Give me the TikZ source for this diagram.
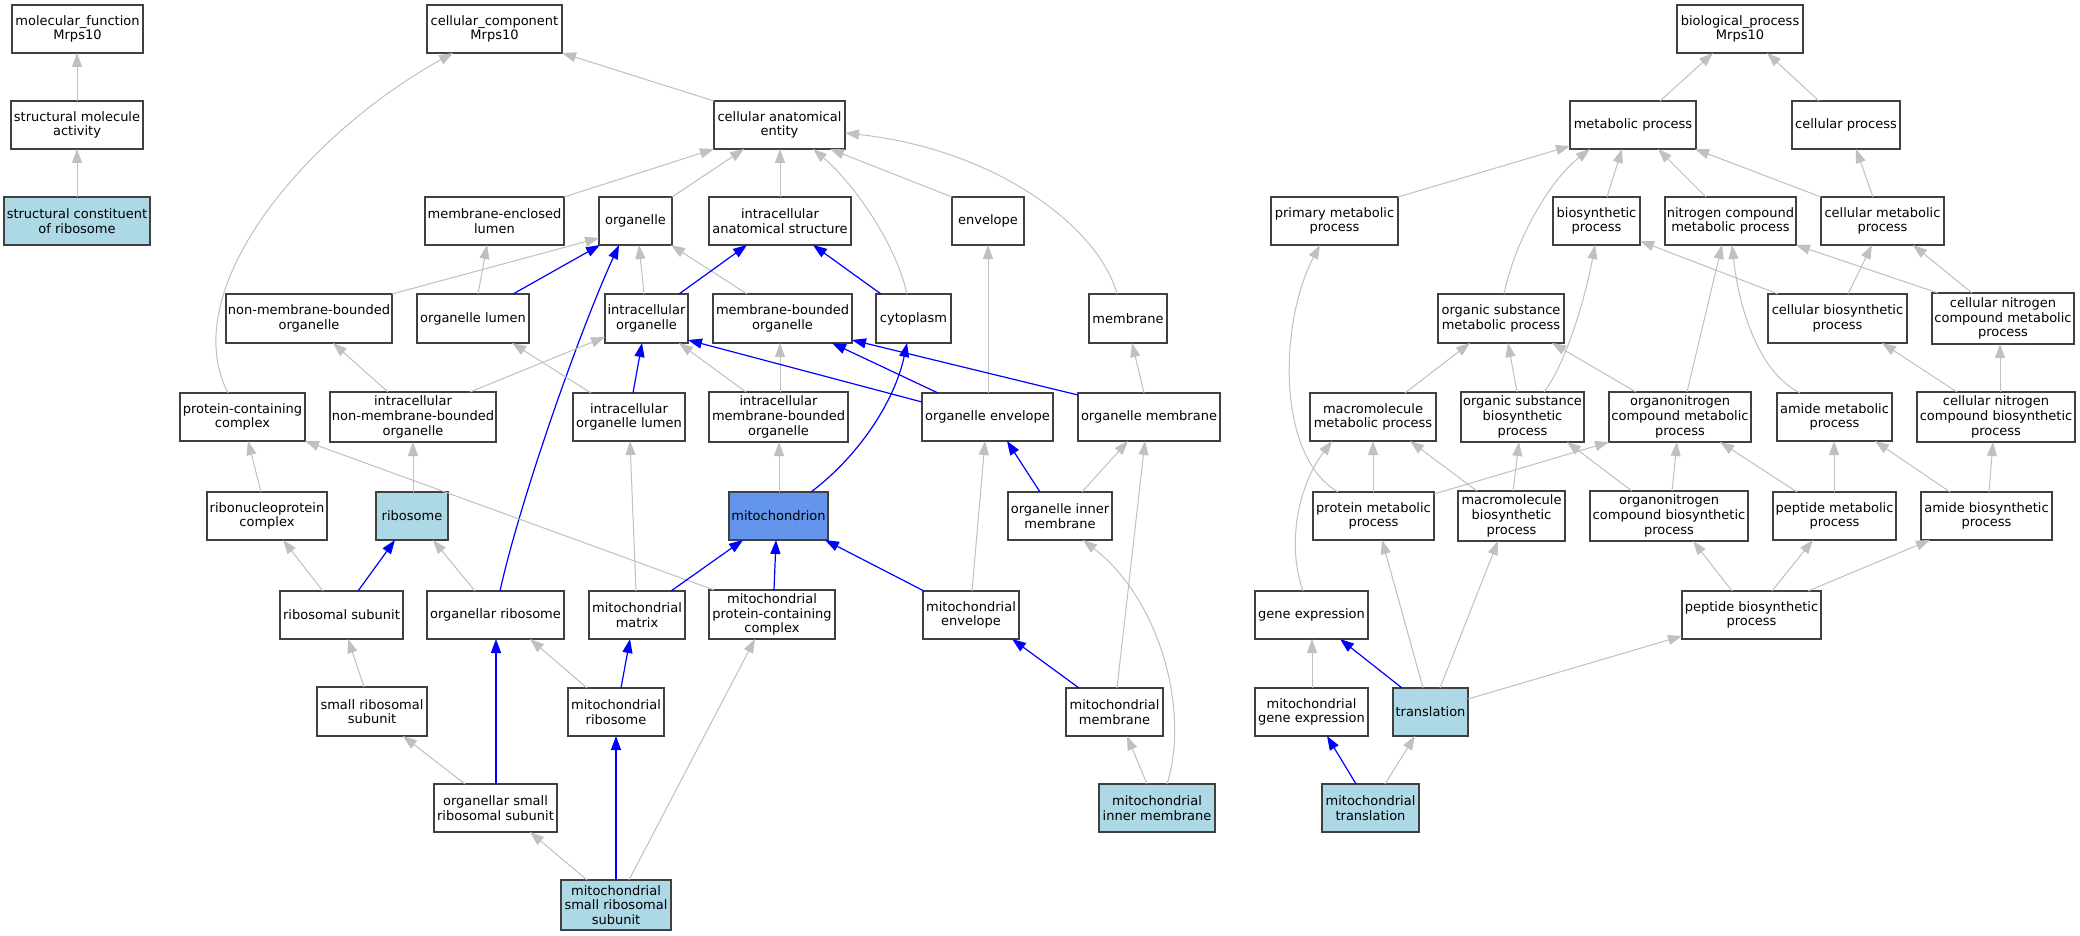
\documentclass[tikz,border=0pt]{standalone}
\usepackage{fontspec}
\setmainfont{DejaVu Sans}
\usetikzlibrary{arrows.meta}
\definecolor{edgegray}{HTML}{C0C0C0}
\definecolor{boxborder}{HTML}{404040}
\definecolor{lblue}{HTML}{ADD8E6}
\definecolor{cfblue}{HTML}{6495ED}
\definecolor{eblue}{HTML}{0000FF}
\tikzset{
  box/.style={draw=boxborder, line width=1.4pt, rectangle, inner sep=0pt, outer sep=0pt, align=center, font=\fontsize{13}{14.6}\selectfont, text=black},
  gr/.style={draw=edgegray, line width=1pt, -{Triangle[length=14pt,width=10pt]}},
  bl/.style={draw=eblue, line width=1.2pt, -{Triangle[length=14pt,width=10pt]}}
}
\newcommand\nd[7][white]{\node[box,fill=#1,minimum width={(#4-#2)*1pt},minimum height={(#5-#3)*1pt}] (#6) at ({(#2+#4)/2},{(#3+#5)/2}) {#7};}
\newcommand\tb[5]{\draw[#1] ([xshift=#3pt]#2.north west) -- ([xshift=#5pt]#4.south west);}
\begin{document}
\begin{tikzpicture}[x=1pt,y=-1pt]
\fill[white] (0,0) rectangle (2080,936);
\useasboundingbox (0,0) rectangle (2080,936);
% molecular function
\nd{12}{5}{143}{53}{mf}{molecular\_function\\Mrps10}
\nd{11}{101}{143}{149}{sma}{structural molecule\\activity}
\nd[lblue]{4}{197}{150}{245}{scr}{structural constituent\\of ribosome}
% cellular component
\nd{427}{5}{562}{53}{cc}{cellular\_component\\Mrps10}
\nd{714}{101}{845}{149}{cae}{cellular anatomical\\entity}
\nd{425}{197}{564}{245}{mel}{membrane-enclosed\\lumen}
\nd{599}{197}{672}{245}{org}{organelle}
\nd{709}{197}{851}{245}{ias}{intracellular\\anatomical structure}
\nd{952}{197}{1024}{245}{env}{envelope}
\nd{226}{294}{392}{343}{nmbo}{non-membrane-bounded\\organelle}
\nd{417}{294}{529}{343}{ol}{organelle lumen}
\nd{605}{294}{688}{343}{io}{intracellular\\organelle}
\nd{713}{294}{852}{343}{mbo}{membrane-bounded\\organelle}
\nd{876}{294}{951}{343}{cyt}{cytoplasm}
\nd{1089}{294}{1167}{343}{mem}{membrane}
\nd{180}{393}{305}{441}{pcc}{protein-containing\\complex}
\nd{330}{392}{496}{442}{inmbo}{intracellular\\non-membrane-bounded\\organelle}
\nd{573}{393}{685}{441}{iol}{intracellular\\organelle lumen}
\nd{709}{392}{848}{442}{imbo}{intracellular\\membrane-bounded\\organelle}
\nd{922}{393}{1053}{441}{oe}{organelle envelope}
\nd{1078}{393}{1220}{441}{om}{organelle membrane}
\nd{207}{492}{327}{540}{rnp}{ribonucleoprotein\\complex}
\nd[lblue]{376}{492}{448}{540}{rib}{ribosome}
\nd[cfblue]{729}{492}{828}{540}{mito}{mitochondrion}
\nd{1008}{492}{1112}{540}{oim}{organelle inner\\membrane}
\nd{280}{591}{403}{639}{rs}{ribosomal subunit}
\nd{427}{591}{564}{639}{orib}{organellar ribosome}
\nd{589}{591}{685}{639}{mm}{mitochondrial\\matrix}
\nd{709}{590}{835}{639}{mpcc}{mitochondrial\\protein-containing\\complex}
\nd{923}{591}{1019}{639}{me}{mitochondrial\\envelope}
\nd{317}{687}{427}{736}{srs}{small ribosomal\\subunit}
\nd{568}{688}{664}{736}{mr}{mitochondrial\\ribosome}
\nd{1066}{688}{1163}{736}{mmem}{mitochondrial\\membrane}
\nd{434}{784}{557}{832}{osrs}{organellar small\\ribosomal subunit}
\nd[lblue]{1099}{784}{1215}{832}{mim}{mitochondrial\\inner membrane}
\nd[lblue]{561}{880}{671}{930}{msrs}{mitochondrial\\small ribosomal\\subunit}
% biological process
\nd{1677}{5}{1803}{53}{bp}{biological\_process\\Mrps10}
\nd{1570}{101}{1696}{149}{mp}{metabolic process}
\nd{1792}{101}{1900}{149}{cp}{cellular process}
\nd{1271}{197}{1398}{245}{prim}{primary metabolic\\process}
\nd{1553}{197}{1640}{245}{bs}{biosynthetic\\process}
\nd{1665}{197}{1796}{245}{ncmp}{nitrogen compound\\metabolic process}
\nd{1821}{197}{1944}{245}{cmp}{cellular metabolic\\process}
\nd{1438}{294}{1564}{343}{osmp}{organic substance\\metabolic process}
\nd{1768}{294}{1907}{343}{cbp}{cellular biosynthetic\\process}
\nd{1932}{293}{2074}{344}{cncmp}{cellular nitrogen\\compound metabolic\\process}
\nd{1310}{393}{1436}{441}{mmp}{macromolecule\\metabolic process}
\nd{1461}{392}{1584}{442}{osbp}{organic substance\\biosynthetic\\process}
\nd{1609}{392}{1751}{442}{oncmp}{organonitrogen\\compound metabolic\\process}
\nd{1777}{393}{1892}{441}{amp}{amide metabolic\\process}
\nd{1917}{392}{2075}{442}{cncbp}{cellular nitrogen\\compound biosynthetic\\process}
\nd{1313}{492}{1434}{540}{pmp}{protein metabolic\\process}
\nd{1458}{491}{1565}{541}{mbp}{macromolecule\\biosynthetic\\process}
\nd{1590}{491}{1748}{541}{oncbp}{organonitrogen\\compound biosynthetic\\process}
\nd{1773}{492}{1896}{540}{pepmp}{peptide metabolic\\process}
\nd{1921}{492}{2052}{540}{abp}{amide biosynthetic\\process}
\nd{1255}{591}{1368}{639}{ge}{gene expression}
\nd{1682}{591}{1821}{639}{pbp}{peptide biosynthetic\\process}
\nd{1255}{688}{1368}{736}{mge}{mitochondrial\\gene expression}
\nd[lblue]{1393}{688}{1468}{736}{tr}{translation}
\nd[lblue]{1322}{784}{1419}{832}{mt}{mitochondrial\\translation}
% ---- edges: molecular function
\tb{gr}{scr}{73}{sma}{66}
\tb{gr}{sma}{66}{mf}{65}
% ---- edges: cellular component
\tb{gr}{cae}{0}{cc}{135}
\draw[gr] ([xshift=48pt]pcc.north west) .. controls (175,290) and (305,135) .. ([xshift=26pt]cc.south west);
\tb{gr}{mel}{139}{cae}{0}
\tb{gr}{org}{73}{cae}{30}
\tb{gr}{ias}{71}{cae}{66}
\draw[gr] ([xshift=31pt]cyt.north west) .. controls (895,240) and (850,180) .. ([xshift=99pt]cae.south west);
\tb{gr}{env}{0}{cae}{116}
\draw[gr] ([xshift=28pt]mem.north west) .. controls (1100,230) and (1000,150) .. ([yshift=-32pt]cae.north east);
\draw[gr] ([xshift=166pt]nmbo.north west) -- ([yshift=7pt]org.south west);
\tb{gr}{ol}{61}{mel}{62}
\tb{bl}{ol}{96}{org}{1}
\draw[bl] ([xshift=73pt]orib.north west) .. controls (520,500) and (580,330) .. ([xshift=20pt]org.south west);
\tb{gr}{io}{39}{org}{40}
\tb{gr}{mbo}{34}{org}{72}
\tb{bl}{io}{74}{ias}{38}
\tb{bl}{cyt}{5}{ias}{104}
\tb{gr}{oe}{66}{env}{36}
\tb{gr}{inmbo}{58}{nmbo}{107}
\draw[gr] ([xshift=140pt]inmbo.north west) -- ([yshift=6pt]io.south west);
\tb{gr}{iol}{18}{ol}{95}
\tb{bl}{iol}{60}{io}{37}
\tb{gr}{imbo}{37}{io}{74}
\tb{gr}{imbo}{71}{mbo}{67}
\draw[bl] ([yshift=-9pt]oe.north west) -- ([yshift=3pt]io.south east);
\tb{bl}{oe}{16}{mbo}{119}
\draw[bl] ([yshift=-2pt]om.north west) -- ([yshift=3pt]mbo.south east);
\tb{gr}{om}{66}{mem}{43}
\draw[bl] ([xshift=82pt]mito.north west) .. controls (860,455) and (895,400) .. ([xshift=31pt]cyt.south west);
\tb{gr}{mito}{50}{imbo}{70}
\tb{gr}{rnp}{54}{pcc}{68}
\tb{gr}{rib}{37}{inmbo}{83}
\tb{bl}{oim}{32}{oe}{85}
\tb{gr}{oim}{74}{om}{50}
\tb{gr}{mpcc}{5}{pcc}{125}
\tb{gr}{rs}{43}{rnp}{76}
\tb{bl}{rs}{78}{rib}{19}
\tb{gr}{orib}{48}{rib}{57}
\tb{gr}{mm}{47}{iol}{57}
\tb{bl}{mm}{82}{mito}{14}
\tb{bl}{mpcc}{65}{mito}{47}
\tb{bl}{me}{1}{mito}{96}
\tb{gr}{me}{49}{oe}{63}
\tb{gr}{srs}{47}{rs}{68}
\tb{gr}{mr}{19}{orib}{103}
\tb{bl}{mr}{53}{mm}{41}
\tb{bl}{mmem}{13}{me}{89}
\tb{gr}{mmem}{51}{om}{67}
\tb{gr}{osrs}{31}{srs}{86}
\tb{bl}{osrs}{62}{orib}{69}
\tb{gr}{mim}{48}{mmem}{61}
\draw[gr] ([xshift=68pt]mim.north west) .. controls (1190,710) and (1160,600) .. ([xshift=75pt]oim.south west);
\tb{gr}{msrs}{26}{osrs}{96}
\tb{bl}{msrs}{55}{mr}{48}
\tb{gr}{msrs}{68}{mpcc}{46}
% ---- edges: biological process
\tb{gr}{mp}{90}{bp}{36}
\tb{gr}{cp}{27}{bp}{90}
\draw[gr] (prim.north east) -- ([yshift=3pt]mp.south west);
\draw[gr] ([xshift=66pt]osmp.north west) .. controls (1515,240) and (1550,180) .. ([xshift=20pt]mp.south west);
\tb{gr}{bs}{54}{mp}{52}
\tb{gr}{ncmp}{41}{mp}{88}
\tb{gr}{cmp}{0}{mp}{125}
\tb{gr}{cmp}{52}{cp}{64}
\draw[gr] ([xshift=10pt]cbp.north west) -- ([yshift=4pt]bs.south east);
\tb{gr}{cbp}{80}{cmp}{51}
\tb{gr}{cncmp}{6}{ncmp}{131}
\tb{gr}{cncmp}{40}{cmp}{92}
\tb{gr}{oncmp}{78}{ncmp}{57}
\draw[gr] ([xshift=23pt]amp.north west) .. controls (1755,370) and (1738,300) .. ([xshift=67pt]ncmp.south west);
\draw[gr] ([xshift=83pt]osbp.north west) .. controls (1565,365) and (1585,300) .. ([xshift=42pt]bs.south west);
\tb{gr}{mmp}{95}{osmp}{32}
\tb{gr}{osbp}{56}{osmp}{70}
\tb{gr}{oncmp}{27}{osmp}{114}
\draw[gr] ([yshift=-2pt]pmp.north east) -- (oncmp.south west);
\tb{gr}{oncbp}{42}{osbp}{106}
\tb{gr}{mbp}{19}{mmp}{100}
\tb{gr}{mbp}{55}{osbp}{58}
\tb{gr}{pmp}{60}{mmp}{63}
\draw[gr] ([xshift=25pt]pmp.north west) .. controls (1275,455) and (1280,320) .. ([xshift=49pt]prim.south west);
\draw[gr] ([xshift=48pt]ge.north west) .. controls (1288,550) and (1295,490) .. ([xshift=22pt]mmp.south west);
\tb{gr}{oncbp}{82}{oncmp}{68}
\tb{gr}{pepmp}{24}{oncmp}{111}
\tb{gr}{pepmp}{61}{amp}{57}
\tb{gr}{abp}{29}{amp}{98}
\tb{gr}{cncbp}{40}{cbp}{114}
\tb{gr}{cncbp}{83}{cncmp}{68}
\tb{gr}{abp}{68}{cncbp}{76}
\tb{gr}{pbp}{50}{oncbp}{103}
\tb{gr}{pbp}{90}{pepmp}{40}
\tb{gr}{pbp}{126}{abp}{9}
\draw[gr] ([yshift=-11pt]tr.north east) -- ([yshift=3pt]pbp.south west);
\tb{gr}{tr}{30}{pmp}{69}
\tb{gr}{tr}{47}{mbp}{40}
\tb{bl}{tr}{9}{ge}{85}
\tb{gr}{mge}{57}{ge}{57}
\tb{bl}{mt}{34}{mge}{72}
\tb{gr}{mt}{63}{tr}{22}
\end{tikzpicture}
\end{document}
